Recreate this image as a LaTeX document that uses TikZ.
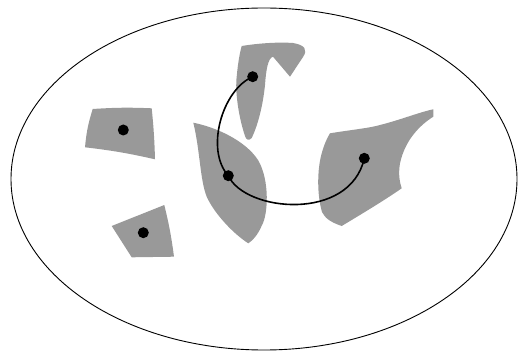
\documentclass[tikz,border=0pt]{standalone}
\begin{document}
\begin{tikzpicture}[x=1pt,y=-1pt,
  region/.style={fill=black!40,draw=none},
  dot/.style={circle,fill=black,inner sep=0pt,minimum size=11pt},
  arcline/.style={line width=1.6pt}]
\useasboundingbox (0,0) rectangle (519,358);
\draw[line width=0.9pt] (264,179) ellipse [x radius=253, y radius=171];
% upper-left quad
\fill[region] (92.7,109) to[bend left=3] (151.7,108.3) to[bend left=2] (155,159.3)
  to[bend right=3] (85,147.3) to[bend left=6] cycle;
% lower-left quad
\fill[region] (111.7,226) -- (164.3,205) to[bend left=3] (174,256.7) -- (131.7,257.3) -- cycle;
% C-shaped top region
\fill[region] (241.7,46) .. controls (260,43) and (280,42) .. (293,43)
  .. controls (305,45) and (308,50) .. (303,57)
  -- (290,76.7) -- (273,56.7) .. controls (268,58) and (266,70) .. (265,85)
  .. controls (263,105) and (258,125) .. (251.7,138)
  .. controls (249,141) and (246,140) .. (245,136)
  .. controls (238,115) and (235,90) .. (236.7,76.7)
  .. controls (238,62) and (240,52) .. cycle;
% leaf region
\fill[region] (193.3,122.7) .. controls (215,127) and (245,140) .. (258,160)
  .. controls (270,180) and (268,215) .. (262,225)
  .. controls (258,235) and (252,241) .. (248.3,243.3)
  .. controls (235,235) and (215,215) .. (206.7,196.7)
  .. controls (200,180) and (200,150) .. cycle;
% right region
\fill[region] (330,133.3) .. controls (350,130) and (370,128) .. (380,125)
  .. controls (400,120) and (420,112) .. (433.3,109.3)
  -- (433.3,116.7) .. controls (420,125) and (405,140) .. (400,163.3)
  .. controls (398,175) and (400,183) .. (401.7,188.3)
  .. controls (385,200) and (360,215) .. (341.7,226)
  .. controls (330,222) and (325,218) .. (322,212)
  .. controls (317,195) and (317,170) .. (321.7,153.3)
  .. controls (324,145) and (327,138) .. cycle;
\node[dot] (a) at (123.3,130) {};
\node[dot] (b) at (143.3,232.7) {};
\node[dot] (t) at (252.7,76.7) {};
\node[dot] (m) at (228.3,175.7) {};
\node[dot] (r) at (364.3,158.3) {};
\draw[arcline] (t.center) .. controls (222,90) and (205,150) .. (m.center);
\draw[arcline] (m.center) .. controls (245,212) and (350,222) .. (r.center);
\end{tikzpicture}
\end{document}
